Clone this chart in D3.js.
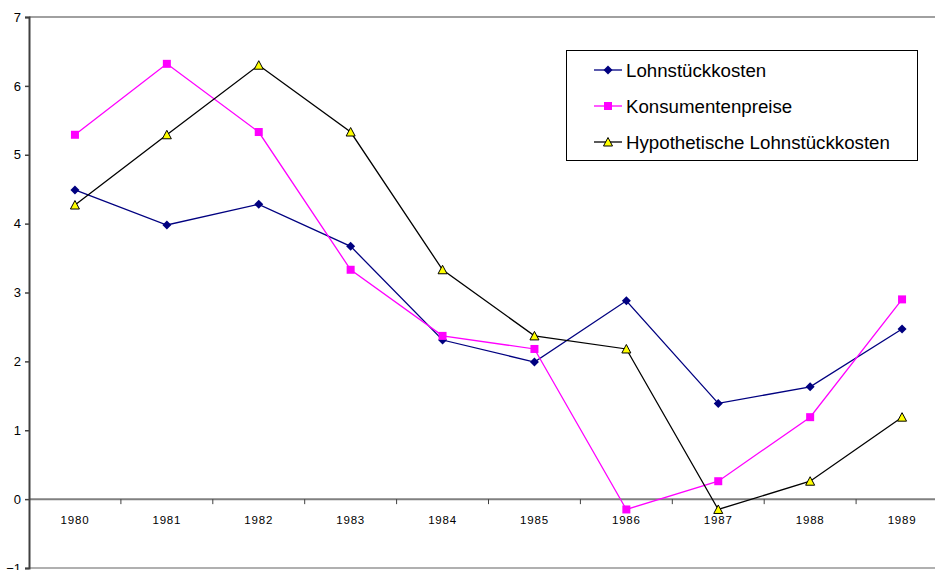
<!DOCTYPE html>
<html><head><meta charset="utf-8">
<script src="https://cdn.jsdelivr.net/npm/d3@7"></script>
<style>body{margin:0;background:#fff;} svg{display:block;}</style>
</head><body>
<script>
const years = ["1980","1981","1982","1983","1984","1985","1986","1987","1988","1989"];
const lohn = [4.49, 3.98, 4.28, 3.67, 2.31, 1.99, 2.88, 1.39, 1.63, 2.47];
const konsum = [5.29, 6.32, 5.33, 3.33, 2.37, 2.18, -0.15, 0.26, 1.19, 2.90];
const hypo = [4.27, 5.29, 6.30, 5.33, 3.33, 2.37, 2.18, -0.15, 0.26, 1.19];
const yTicks = [-1, 0, 1, 2, 3, 4, 5, 6, 7];
const seriesNames = ["Lohnstückkosten", "Konsumentenpreise", "Hypothetische Lohnstückkosten"];

(function () {
const W = 935, H = 570;
const svg = d3.select("body").append("svg").attr("width", W).attr("height", H);
const pLeft = 29, pRight = 948, pTop = 17, pBottom = 568;
const x = d3.scaleBand().domain(years).range([pLeft, pRight]);
const y = d3.scaleLinear().domain([-1, 7]).range([pBottom, pTop]);
const font = "'Liberation Sans', Arial, sans-serif";

svg.append("line").attr("x1", pLeft).attr("x2", W).attr("y1", y(7)).attr("y2", y(7)).attr("stroke", "#a0a0a0").attr("stroke-width", 2);
svg.append("line").attr("x1", pLeft).attr("x2", W).attr("y1", y(-1)).attr("y2", y(-1)).attr("stroke", "#b0b0b0").attr("stroke-width", 2);

const xAxis = svg.append("g").attr("transform", `translate(0,${y(0)})`);
xAxis.append("line").attr("x1", pLeft).attr("x2", W).attr("stroke", "#808080").attr("stroke-width", 2);
xAxis.selectAll("line.tk").data(years.slice(1)).enter().append("line").attr("class","tk")
  .attr("x1", d => x(d)).attr("x2", d => x(d)).attr("y1", 0).attr("y2", 5)
  .attr("stroke", "#404040").attr("stroke-width", 1);
xAxis.selectAll("text").data(years).enter().append("text")
  .attr("x", d => x(d) + x.bandwidth()/2).attr("y", 25)
  .attr("text-anchor", "middle").attr("font-family", font).attr("font-size", "11.5px")
  .attr("letter-spacing", "0.8px").attr("fill", "#000").text(d => d);

const yAxis = d3.axisLeft(y).tickValues(yTicks).tickSize(4).tickFormat(d3.format("d"));
const gy = svg.append("g").attr("transform", `translate(${pLeft},0)`).call(yAxis);
gy.select(".domain").attr("stroke", "#404040").attr("stroke-width", 2);
gy.selectAll(".tick line").attr("stroke", "#404040").attr("stroke-width", 1.5);
gy.selectAll(".tick text").attr("font-family", font).attr("font-size", "13px").attr("fill", "#000").attr("x", -8);

const cx = (d, i) => x(years[i]) + x.bandwidth()/2;
const line = d3.line().x(cx).y(d => y(d));

const series = [
  {name: seriesNames[0], data: lohn, color: "#000080", marker: "diamond"},
  {name: seriesNames[1], data: konsum, color: "#ff00ff", marker: "square"},
  {name: seriesNames[2], data: hypo, color: "#000000", marker: "triangle"}
];

function drawMarker(g, type, px, py) {
  if (type === "diamond") {
    g.append("path").attr("d", `M${px},${py-4.5}L${px+4.5},${py}L${px},${py+4.5}L${px-4.5},${py}Z`).attr("fill", "#000080");
  } else if (type === "square") {
    g.append("rect").attr("x", px-4).attr("y", py-4).attr("width", 8).attr("height", 8).attr("fill", "#ff00ff");
  } else {
    g.append("path").attr("d", `M${px},${py-4.5}L${px+4.5},${py+4}L${px-4.5},${py+4}Z`).attr("fill", "#ffff00").attr("stroke", "#000").attr("stroke-width", 1);
  }
}

series.forEach(s => {
  svg.append("path").datum(s.data).attr("d", line).attr("fill", "none").attr("stroke", s.color).attr("stroke-width", 1.3);
});
series.forEach(s => {
  const g = svg.append("g");
  s.data.forEach((d, i) => drawMarker(g, s.marker, cx(d, i), y(d)));
});

const lg = svg.append("g");
lg.append("rect").attr("x", 566.5).attr("y", 50.5).attr("width", 351).attr("height", 110).attr("fill", "#fff").attr("stroke", "#000").attr("stroke-width", 1);
series.forEach((s, i) => {
  const ly = 70 + i * 36;
  lg.append("line").attr("x1", 594).attr("x2", 622).attr("y1", ly).attr("y2", ly).attr("stroke", s.color).attr("stroke-width", 1.3);
  drawMarker(lg, s.marker, 608, ly);
  lg.append("text").attr("x", 626).attr("y", ly + 7).attr("font-family", font).attr("font-size", "18.7px").attr("fill", "#000").text(s.name);
});
})();
</script>
</body></html>
